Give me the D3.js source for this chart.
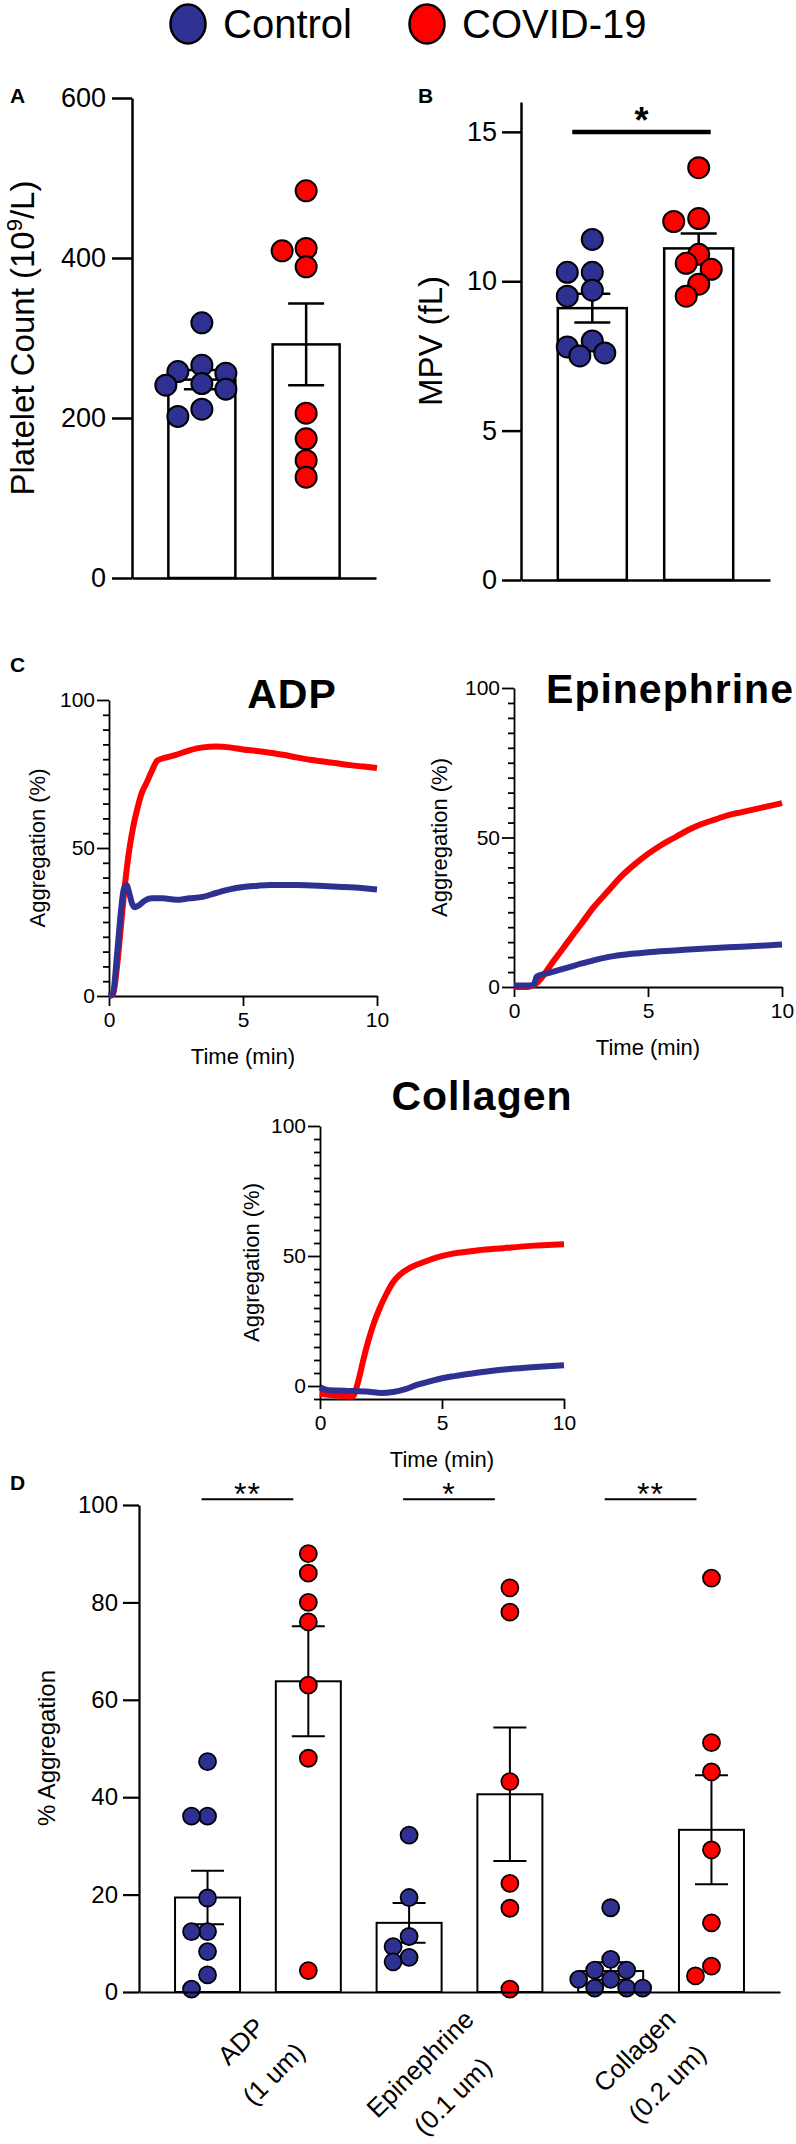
<!DOCTYPE html>
<html>
<head>
<meta charset="utf-8">
<script src="https://cdn.jsdelivr.net/npm/d3@7"></script>
<style>
  body { margin: 0; background: #fff; }
  svg { display: block; }
</style>
</head>
<body>
<script>
// groups and colours
var groups = ['Control', 'COVID-19'];
var groupColors = ['#2E3192', '#FF0000'];

// A: platelet count (10^9/L)
var plateletControl = [319, 266, 258, 256, 243, 241, 236, 211, 202];
var plateletCovid = [484, 412, 409, 389, 206, 174, 147, 126];
var plateletMean = [248, 292];
var plateletSem = [12, 51];
var plateletTicks = [0, 200, 400, 600];

// B: mean platelet volume (fL)
var mpvControl = [11.4, 10.3, 10.3, 9.7, 9.5, 8.0, 7.8, 7.6, 7.5];
var mpvCovid = [13.8, 12.1, 12.0, 10.9, 10.6, 10.4, 9.9, 9.5];
var mpvMean = [9.1, 11.1];
var mpvSem = [0.48, 0.5];
var mpvTicks = [0, 5, 10, 15];

// C: aggregation traces, [time (min), aggregation (%)]
var adpCovid = [[0, 0], [0.15, 0.5], [0.3, 10], [0.45, 24], [0.6, 38], [0.75, 49], [0.9, 57],
  [1.05, 63], [1.2, 68], [1.4, 72], [1.6, 76], [1.8, 79.5], [2.1, 80.5], [2.5, 81.5], [3, 83],
  [3.5, 84], [4, 84.3], [4.5, 84], [5, 83.3], [5.5, 82.8], [6, 82.2], [6.5, 81.5], [7, 80.6],
  [7.5, 79.8], [8, 79.2], [8.5, 78.6], [9, 78], [9.5, 77.5], [10, 77]];
var adpControl = [[0, 0], [0.15, 1], [0.3, 14], [0.45, 29], [0.55, 36], [0.65, 37.5], [0.75, 35],
  [0.85, 31.5], [0.95, 30], [1.1, 30.5], [1.3, 32], [1.6, 33], [2, 33], [2.5, 32.5], [3, 33],
  [3.5, 33.5], [4, 34.8], [4.5, 36], [5, 36.8], [5.5, 37.2], [6, 37.5], [7, 37.5], [8, 37.2],
  [9, 36.7], [10, 36]];
var epiCovid = [[0, 0], [0.5, 0], [0.8, 1], [1.5, 9], [2, 15], [2.5, 21], [3, 27], [3.5, 32],
  [4, 37], [4.5, 41], [5, 44.5], [5.5, 47.5], [6, 50], [6.5, 52.5], [7, 54.5], [7.5, 56],
  [8, 57.5], [8.5, 58.5], [9, 59.5], [9.5, 60.5], [10, 61.5]];
var epiControl = [[0, 0.5], [0.6, 0.5], [0.75, 1], [0.85, 3.5], [1.2, 4.5], [1.6, 5.5], [2, 6.5],
  [2.5, 7.8], [3, 9], [3.5, 10], [4, 10.7], [5, 11.6], [6, 12.2], [7, 12.8], [8, 13.3],
  [9, 13.7], [10, 14.2]];
var colCovid = [[0, -3], [1.35, -4], [1.45, -2], [1.6, 3], [1.8, 11], [2, 18], [2.2, 24],
  [2.45, 30], [2.7, 35], [3, 40], [3.3, 43], [3.7, 45.5], [4.2, 47.5], [4.8, 49.5], [5.5, 51],
  [6.5, 52.2], [7.5, 53], [8.5, 53.8], [10, 54.5]];
var colControl = [[0, -0.5], [0.3, -1.5], [1, -1.8], [2, -2.2], [2.5, -2.7], [3, -2.3],
  [3.5, -1.2], [4, 0.5], [4.5, 1.8], [5, 3], [5.5, 3.8], [6, 4.5], [7, 5.8], [8, 6.7],
  [9, 7.4], [10, 8]];
var timeTicks = [0, 5, 10];

// D: % aggregation per agonist
var aggCategories = ['ADP', 'Epinephrine', 'Collagen'];
var aggDoses = ['(1 um)', '(0.1 um)', '(0.2 um)'];
var aggControl = [
  [47.3, 36.1, 36.1, 19.3, 12.4, 12.4, 8.3, 3.5, 0.6],
  [32.2, 19.4, 11.4, 9.3, 7.1, 6.2],
  [17.3, 6.7, 4.5, 4.5, 2.6, 2.6, 0.8, 0.8, 0.8]];
var aggCovid = [
  [90, 86, 80, 76, 63, 48, 4.4],
  [83, 78, 43.2, 22.3, 17.2, 0.6],
  [85, 51.2, 45.2, 29.2, 14.2, 5.3, 3.3]];
var aggControlMean = [19.4, 14.2, 4.3];
var aggControlSem = [5.5, 4.1, 1.8];
var aggCovidMean = [63.8, 40.6, 33.3];
var aggCovidSem = [11.3, 13.7, 11.2];
var aggStars = ['**', '*', '**'];
var aggTicks = [0, 20, 40, 60, 80, 100];

var font = "'Liberation Sans', Arial, Helvetica, sans-serif";

// greedy beeswarm: horizontal offsets so the dots of one column don't pile up
function swarm(values, y, step, minDist) {
  var placed = [];
  var offs = [];
  var order = values.map(function (v, i) { return i; })
    .sort(function (a, b) { return values[b] - values[a]; });
  order.forEach(function (i) {
    var py = y(values[i]);
    var dx = 0;
    for (var k = 0; k < 40; k++) {
      dx = (k % 2 === 0 ? 1 : -1) * Math.ceil(k / 2) * step;
      var ok = placed.every(function (p) {
        return Math.hypot(p[0] - dx, p[1] - py) >= minDist;
      });
      if (ok) break;
    }
    offs[i] = dx;
    placed.push([dx, py]);
  });
  return offs;
}

function styleAxis(g, size, width) {
  g.attr('font-family', font).attr('font-size', size);
  g.selectAll('path, line').attr('stroke', '#000').attr('stroke-width', width);
  g.selectAll('text').attr('fill', '#000');
}

// bars with mean +- SEM and the single dots on top
function drawColumns(g, x, y, keys, means, sems, points, colors, st) {
  g.selectAll(null)
  .data(keys)
  .enter()
  .append('rect')
  .attr('x', function (d) { return x(d) - st.barWidth / 2; })
  .attr('y', function (d, i) { return y(means[i]); })
  .attr('width', st.barWidth)
  .attr('height', function (d, i) { return y(0) - y(means[i]); })
  .attr('fill', '#fff')
  .attr('stroke', '#000')
  .attr('stroke-width', st.line);

  keys.forEach(function (k, i) {
    var cx = x(k);
    var lo = y(means[i] - sems[i]);
    var hi = y(means[i] + sems[i]);
    g.append('line')
    .attr('x1', cx).attr('x2', cx).attr('y1', lo).attr('y2', hi)
    .attr('stroke', '#000').attr('stroke-width', st.line);
    [lo, hi].forEach(function (yy) {
      g.append('line')
      .attr('x1', cx - st.cap / 2).attr('x2', cx + st.cap / 2)
      .attr('y1', yy).attr('y2', yy)
      .attr('stroke', '#000').attr('stroke-width', st.line);
    });
  });

  keys.forEach(function (k, i) {
    var offs = swarm(points[i], y, st.step, st.minDist);
    g.selectAll(null)
    .data(points[i])
    .enter()
    .append('circle')
    .attr('cx', function (d, j) { return x(k) + offs[j]; })
    .attr('cy', function (d) { return y(d); })
    .attr('r', st.r)
    .attr('fill', colors[i])
    .attr('stroke', '#000')
    .attr('stroke-width', st.dotStroke);
  });
}

function panelLetter(svg, letter, x, y) {
  svg.append('text')
  .attr('x', x).attr('y', y)
  .attr('font-size', 21).attr('font-weight', 'bold')
  .text(letter);
}

function yLabel(svg, x, y, size, label) {
  return svg.append('text')
  .attr('transform', 'translate(' + x + ',' + y + ') rotate(-90)')
  .attr('text-anchor', 'middle')
  .attr('font-size', size)
  .text(label);
}

// one aggregometry trace panel
function drawTrace(svg, cfg) {
  var x = d3.scaleLinear().domain([0, 10]).range(cfg.xRange);
  var y = d3.scaleLinear().domain(cfg.yDomain).range(cfg.yRange);
  var g = svg.append('g');

  var yTicks = d3.range(cfg.yDomain[0], 101, 5);
  var yAxis = g.append('g')
  .attr('transform', 'translate(' + cfg.xRange[0] + ',0)')
  .call(d3.axisLeft(y).tickValues(yTicks).tickSize(6).tickSizeOuter(0).tickPadding(9)
    .tickFormat(function (d) { return d % 50 === 0 ? d : ''; }));
  yAxis.selectAll('.tick line')
  .attr('x2', function (d) { return d % 50 === 0 ? -12 : -6; });
  styleAxis(yAxis, 21, 1.8);
  yAxis.selectAll('.tick text').attr('x', -14);

  var xAxis = g.append('g')
  .attr('transform', 'translate(0,' + y(cfg.yDomain[0]) + ')')
  .call(d3.axisBottom(x).tickValues(timeTicks).tickSize(10).tickSizeOuter(0).tickPadding(6));
  styleAxis(xAxis, 21, 1.8);

  g.append('text')
  .attr('x', x(5)).attr('y', y(cfg.yDomain[0]) + 68)
  .attr('text-anchor', 'middle').attr('font-size', 22)
  .text('Time (min)');

  yLabel(g, cfg.labelX, (cfg.yRange[0] + cfg.yRange[1]) / 2, 22, 'Aggregation (%)');

  g.append('text')
  .attr('x', cfg.titleX).attr('y', cfg.titleY)
  .attr('text-anchor', 'middle')
  .attr('font-size', 41).attr('font-weight', 'bold').attr('letter-spacing', 1)
  .text(cfg.title);

  var line = d3.line()
  .x(function (d) { return x(d[0]); })
  .y(function (d) { return y(d[1]); })
  .curve(d3.curveMonotoneX);

  [cfg.covid, cfg.control].forEach(function (s, i) {
    g.append('path')
    .datum(s)
    .attr('d', line)
    .attr('fill', 'none')
    .attr('stroke', groupColors[1 - i])
    .attr('stroke-width', 6);
  });
}

function drawSvg() {
  var svgWidth = 796;
  var svgHeight = 2144;
  var svg = d3.select('body')
  .append('svg')
  .attr('width', svgWidth)
  .attr('height', svgHeight)
  .attr('font-family', font);

  // legend
  var legX = [188, 427];
  groups.forEach(function (gname, i) {
    svg.append('ellipse')
    .attr('cx', legX[i]).attr('cy', 24).attr('rx', 17.5).attr('ry', 19.5)
    .attr('fill', groupColors[i]).attr('stroke', '#000').attr('stroke-width', 2.5);
    svg.append('text')
    .attr('x', legX[i] + 35).attr('y', 38)
    .attr('font-size', 40)
    .text(gname);
  });

  // A: platelet count
  panelLetter(svg, 'A', 10, 103);
  var xA = d3.scalePoint().domain(groups).range([132, 376]).padding(0.67);
  var yA = d3.scaleLinear().domain([0, 600]).range([578, 98]);
  var gA = svg.append('g');
  drawColumns(gA, xA, yA, groups, plateletMean, plateletSem,
    [plateletControl, plateletCovid], groupColors,
    { barWidth: 67, cap: 36, line: 2.5, r: 10.5, dotStroke: 2, step: 12, minDist: 16 });
  var axA = gA.append('g').attr('transform', 'translate(132,0)')
  .call(d3.axisLeft(yA).tickValues(plateletTicks).tickSize(20).tickSizeOuter(0).tickPadding(6));
  styleAxis(axA, 27, 2.5);
  var axAx = gA.append('g').attr('transform', 'translate(0,' + yA(0) + ')')
  .call(d3.axisBottom(xA).tickValues([]).tickSizeOuter(0));
  styleAxis(axAx, 27, 2.5);
  var labA = yLabel(svg, 34, 338, 33, '');
  labA.append('tspan').text('Platelet Count (10');
  labA.append('tspan').attr('dy', -12).attr('font-size', 22).text('9');
  labA.append('tspan').attr('dy', 12).text('/L)');

  // B: MPV
  panelLetter(svg, 'B', 418, 103);
  var xB = d3.scalePoint().domain(groups).range([521, 770]).padding(0.67);
  var yB = d3.scaleLinear().domain([0, 16]).range([580, 102]);
  var gB = svg.append('g');
  drawColumns(gB, xB, yB, groups, mpvMean, mpvSem, [mpvControl, mpvCovid], groupColors,
    { barWidth: 69, cap: 36, line: 2.5, r: 10.5, dotStroke: 2, step: 12.5, minDist: 14.5 });
  var axB = gB.append('g').attr('transform', 'translate(521,0)')
  .call(d3.axisLeft(yB).tickValues(mpvTicks).tickSize(19).tickSizeOuter(0).tickPadding(5));
  styleAxis(axB, 27, 2.5);
  var axBx = gB.append('g').attr('transform', 'translate(0,' + yB(0) + ')')
  .call(d3.axisBottom(xB).tickValues([]).tickSizeOuter(0));
  styleAxis(axBx, 27, 2.5);
  yLabel(svg, 442, 341, 33, 'MPV (fL)');
  var bx1 = xB(groups[0]) - 20;
  var bx2 = xB(groups[1]) + 12;
  gB.append('line')
  .attr('x1', bx1).attr('x2', bx2).attr('y1', yB(15)).attr('y2', yB(15))
  .attr('stroke', '#000').attr('stroke-width', 4.5);
  gB.append('text')
  .attr('x', (bx1 + bx2) / 2).attr('y', yB(15) + 1)
  .attr('text-anchor', 'middle').attr('font-size', 36).attr('font-weight', 'bold')
  .text('*');

  // C: aggregation traces
  panelLetter(svg, 'C', 10, 672);
  drawTrace(svg, { xRange: [109, 377], yDomain: [0, 100], yRange: [996, 700],
    title: 'ADP', titleX: 292, titleY: 708, labelX: 45,
    covid: adpCovid, control: adpControl });
  drawTrace(svg, { xRange: [514, 782], yDomain: [0, 100], yRange: [987, 688],
    title: 'Epinephrine', titleX: 670, titleY: 703, labelX: 447,
    covid: epiCovid, control: epiControl });
  drawTrace(svg, { xRange: [320, 564], yDomain: [-5, 100], yRange: [1399, 1126],
    title: 'Collagen', titleX: 482, titleY: 1110, labelX: 259,
    covid: colCovid, control: colControl });

  // D: % aggregation
  panelLetter(svg, 'D', 10, 1490);
  var keysD = [];
  var meansD = [];
  var semsD = [];
  var ptsD = [];
  var colsD = [];
  aggCategories.forEach(function (c, i) {
    keysD.push(c + '-ctl', c + '-cov');
    meansD.push(aggControlMean[i], aggCovidMean[i]);
    semsD.push(aggControlSem[i], aggCovidSem[i]);
    ptsD.push(aggControl[i], aggCovid[i]);
    colsD.push(groupColors[0], groupColors[1]);
  });
  var xD = d3.scalePoint().domain(keysD).range([139, 780]).padding(0.68);
  var yD = d3.scaleLinear().domain([0, 100]).range([1992, 1505]);
  var gD = svg.append('g');
  drawColumns(gD, xD, yD, keysD, meansD, semsD, ptsD, colsD,
    { barWidth: 65, cap: 33, line: 2, r: 8.5, dotStroke: 1.8, step: 16, minDist: 15 });
  var axD = gD.append('g').attr('transform', 'translate(139,0)')
  .call(d3.axisLeft(yD).tickValues(aggTicks).tickSize(16).tickSizeOuter(0).tickPadding(5));
  styleAxis(axD, 24, 2.2);
  var axDx = gD.append('g').attr('transform', 'translate(0,' + yD(0) + ')')
  .call(d3.axisBottom(xD).tickValues([]).tickSizeOuter(0));
  styleAxis(axDx, 24, 2.2);
  yLabel(svg, 55, 1748, 24, '% Aggregation');

  aggCategories.forEach(function (c, i) {
    var xc = xD(c + '-ctl');
    var xv = xD(c + '-cov');
    var sx1 = xc - 6;
    var sx2 = xv - 15;
    var sy = yD(101.2);
    gD.append('line')
    .attr('x1', sx1).attr('x2', sx2).attr('y1', sy).attr('y2', sy)
    .attr('stroke', '#000').attr('stroke-width', 2);
    gD.append('text')
    .attr('x', (sx1 + sx2) / 2).attr('y', sy + 6)
    .attr('text-anchor', 'middle').attr('font-size', 32)
    .attr('letter-spacing', 1)
    .text(aggStars[i]);

    // two centred lines, rotated, right end at the group
    var mid = (xc + xv) / 2;
    var lg = gD.append('g')
    .attr('transform', 'translate(' + (mid + 26) + ',' + (yD(0) + 39) + ') rotate(-45)');
    var t1 = lg.append('text').attr('text-anchor', 'middle').attr('font-size', 26).text(c);
    var t2 = lg.append('text').attr('text-anchor', 'middle').attr('font-size', 26).text(aggDoses[i]);
    var w = Math.max(t1.node().getComputedTextLength(), t2.node().getComputedTextLength());
    t1.attr('x', -w / 2).attr('y', -23 + 9);
    t2.attr('x', -w / 2).attr('y', 23 + 9);
  });
}

drawSvg();
</script>
</body>
</html>
